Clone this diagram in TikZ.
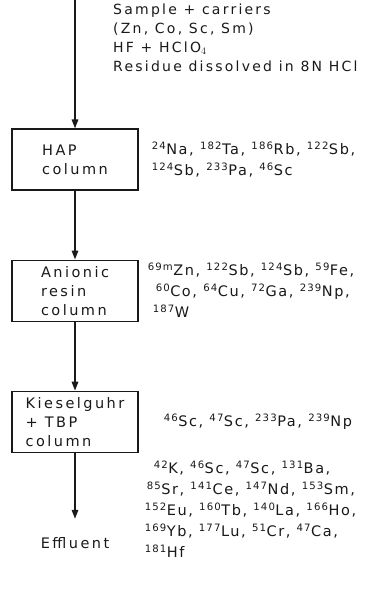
\documentclass[tikz,border=0pt]{standalone}
\usepackage{fontspec}
\setmainfont{DejaVu Sans}[LetterSpace=11]
\newfontfamily\notefont{DejaVu Sans}[LetterSpace=16]
\newfontfamily\boxfont{DejaVu Sans}[LetterSpace=17]
\usetikzlibrary{positioning,arrows.meta}

\newcommand{\nuc}[2]{\textsuperscript{#1}#2}

\tikzset{
  colbox/.style={draw, line width=1.1pt, minimum width=126pt, minimum height=61pt,
    align=left, font=\boxfont\fontsize{14.5}{19}\selectfont},
  isolist/.style={inner sep=0pt, align=left, font=\fontsize{14.5}{21}\selectfont},
  flow/.style={line width=1.6pt, -{Triangle[length=9pt,width=6.5pt]}}
}

\begin{document}
\begin{tikzpicture}[x=1pt,y=-1pt,color=black!90]
  \useasboundingbox (0,0) rectangle (373,601);
  \coordinate (feed) at (75,0);
  \node[isolist, font=\notefont\fontsize{14}{19}\selectfont, anchor=north west, below right=4pt and 38pt of feed] (feednote)
    {Sample + carriers\\(Zn, Co, Sc, Sm)\\HF + HClO$_4$\\Residue dissolved in 8N HCl};

  \node[colbox] (hap) at (75,159.5) {HAP\\column};
  \node[colbox, below=69pt of hap] (anion) {Anionic\\resin\\column};
  \node[colbox, below=69pt of anion] (kgtbp) {Kieselguhr\\+ TBP\\column};
  \node[inner sep=0pt, font=\boxfont\fontsize{14.5}{19}\selectfont, below=85pt of kgtbp] (effl) {Effluent};

  % what each column keeps back
  \node[isolist, right=13pt of hap] (hapout)
    {\nuc{24}{Na}, \nuc{182}{Ta}, \nuc{186}{Rb}, \nuc{122}{Sb},\\
     \nuc{124}{Sb}, \nuc{233}{Pa}, \nuc{46}{Sc}};
  \node[isolist, right=9pt of anion] (anionout)
    {\nuc{69m}{Zn}, \nuc{122}{Sb}, \nuc{124}{Sb}, \nuc{59}{Fe},\\
     \hspace{8pt}\nuc{60}{Co}, \nuc{64}{Cu}, \nuc{72}{Ga}, \nuc{239}{Np},\\
     \hspace{5pt}\nuc{187}{W}};
  \node[isolist, right=25pt of kgtbp] (kgtbpout)
    {\nuc{46}{Sc}, \nuc{47}{Sc}, \nuc{233}{Pa}, \nuc{239}{Np}};
  \node[isolist, anchor=north west, below right=8pt and 6pt of kgtbp.south east] (efflout)
    {\hspace{9pt}\nuc{42}{K}, \nuc{46}{Sc}, \nuc{47}{Sc}, \nuc{131}{Ba},\\
     \hspace{2pt}\nuc{85}{Sr}, \nuc{141}{Ce}, \nuc{147}{Nd}, \nuc{153}{Sm},\\
     \nuc{152}{Eu}, \nuc{160}{Tb}, \nuc{140}{La}, \nuc{166}{Ho},\\
     \nuc{169}{Yb}, \nuc{177}{Lu}, \nuc{51}{Cr}, \nuc{47}{Ca},\\
     \nuc{181}{Hf}};

  \draw[flow] (feed) -- (hap);
  \draw[flow] (hap) -- (anion);
  \draw[flow] (anion) -- (kgtbp);
  \draw[flow, shorten >=19pt] (kgtbp) -- (effl);
\end{tikzpicture}
\end{document}
